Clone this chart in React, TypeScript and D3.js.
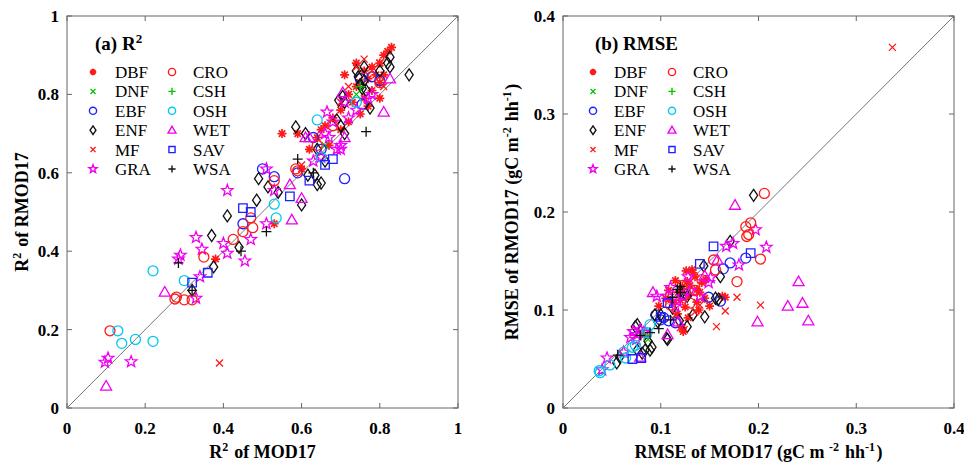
import React from 'react';
import * as d3 from 'd3';

// class names, in plotting / legend order
const CLASSES = ['DBF', 'DNF', 'EBF', 'ENF', 'MF', 'GRA', 'CRO', 'CSH', 'OSH', 'WET', 'SAV', 'WSA'];

// (a) R2: [MOD17, RMOD17]
const R2_DBF = [[0.55,0.70],[0.59,0.70],[0.38,0.38],[0.53,0.47],[0.83,0.92],[0.82,0.91],[0.81,0.90],[0.80,0.88],[0.78,0.87],[0.76,0.86],[0.79,0.85],[0.77,0.84],[0.75,0.83],[0.80,0.83],[0.74,0.82],[0.78,0.81],[0.72,0.80],[0.76,0.79],[0.80,0.79],[0.73,0.78],[0.77,0.77],[0.70,0.76],[0.75,0.75],[0.68,0.74],[0.72,0.73],[0.66,0.72],[0.70,0.71],[0.64,0.69],[0.67,0.67],[0.62,0.66],[0.60,0.61],[0.71,0.85],[0.74,0.88],[0.65,0.71],[0.81,0.85]];
const R2_DNF = [[0.74,0.80],[0.66,0.67]];
const R2_EBF = [[0.71,0.585],[0.50,0.61],[0.53,0.59],[0.45,0.47],[0.59,0.60],[0.75,0.84],[0.80,0.835],[0.78,0.845],[0.63,0.69],[0.755,0.775],[0.65,0.66]];
const R2_ENF = [[0.826,0.895],[0.82,0.88],[0.826,0.87],[0.875,0.85],[0.80,0.86],[0.76,0.87],[0.74,0.86],[0.745,0.845],[0.76,0.835],[0.75,0.825],[0.755,0.815],[0.765,0.81],[0.775,0.765],[0.705,0.795],[0.695,0.785],[0.71,0.78],[0.69,0.735],[0.70,0.72],[0.71,0.70],[0.585,0.717],[0.61,0.70],[0.49,0.585],[0.485,0.53],[0.41,0.49],[0.37,0.44],[0.44,0.41],[0.375,0.36],[0.32,0.30],[0.60,0.518],[0.65,0.574],[0.64,0.57],[0.616,0.594],[0.634,0.594],[0.514,0.564],[0.54,0.55],[0.66,0.63],[0.64,0.66]];
const R2_MF = [[0.39,0.115],[0.76,0.89],[0.78,0.86],[0.74,0.87],[0.72,0.82],[0.80,0.88],[0.70,0.78],[0.81,0.82],[0.60,0.62]];
const R2_GRA = [[0.097,0.117],[0.105,0.127],[0.164,0.118],[0.41,0.555],[0.51,0.61],[0.33,0.435],[0.345,0.405],[0.29,0.39],[0.285,0.38],[0.40,0.42],[0.41,0.395],[0.47,0.43],[0.455,0.375],[0.51,0.47],[0.34,0.335],[0.33,0.28],[0.53,0.555],[0.65,0.64],[0.70,0.66],[0.665,0.755],[0.71,0.78],[0.68,0.73],[0.78,0.80],[0.77,0.79],[0.69,0.66],[0.70,0.67],[0.63,0.63],[0.66,0.70],[0.74,0.76],[0.72,0.74],[0.67,0.69]];
const R2_CRO = [[0.11,0.197],[0.276,0.278],[0.30,0.276],[0.32,0.276],[0.28,0.283],[0.35,0.385],[0.425,0.43],[0.45,0.45],[0.475,0.46],[0.47,0.485],[0.53,0.58],[0.585,0.61],[0.59,0.605],[0.64,0.67],[0.68,0.72],[0.80,0.83]];
const R2_CSH = [[0.75,0.82]];
const R2_OSH = [[0.13,0.197],[0.14,0.165],[0.175,0.175],[0.22,0.17],[0.22,0.35],[0.30,0.325],[0.53,0.52],[0.535,0.485],[0.64,0.735],[0.65,0.64],[0.74,0.78]];
const R2_WET = [[0.10,0.056],[0.25,0.296],[0.57,0.57],[0.60,0.535],[0.575,0.48],[0.61,0.69],[0.71,0.69],[0.826,0.84],[0.81,0.755],[0.705,0.805],[0.62,0.69]];
const R2_SAV = [[0.68,0.635],[0.62,0.58],[0.57,0.54],[0.45,0.51],[0.47,0.50],[0.36,0.345],[0.32,0.32],[0.66,0.62]];
const R2_WSA = [[0.765,0.705],[0.59,0.635],[0.51,0.45],[0.445,0.40],[0.285,0.37],[0.32,0.30],[0.63,0.60]];

// (b) RMSE: [MOD17, RMOD17]
const RM_DBF = [[0.132,0.141],[0.135,0.134],[0.127,0.129],[0.137,0.121],[0.122,0.124],[0.163,0.114],[0.166,0.113],[0.125,0.103],[0.137,0.108],[0.139,0.100],[0.122,0.082],[0.123,0.078],[0.118,0.118],[0.128,0.115],[0.112,0.108],[0.145,0.112],[0.150,0.104],[0.115,0.130],[0.108,0.120],[0.130,0.125],[0.142,0.128],[0.105,0.112],[0.098,0.104],[0.120,0.110],[0.133,0.138],[0.126,0.140],[0.140,0.118],[0.146,0.131],[0.117,0.096],[0.128,0.092]];
const RM_DNF = [[0.087,0.070]];
const RM_EBF = [[0.171,0.148],[0.187,0.153],[0.164,0.142],[0.149,0.113],[0.161,0.109],[0.103,0.092],[0.108,0.089],[0.115,0.087],[0.095,0.095],[0.100,0.090],[0.126,0.116]];
const RM_ENF = [[0.195,0.217],[0.171,0.170],[0.144,0.145],[0.156,0.112],[0.145,0.093],[0.106,0.071],[0.094,0.095],[0.074,0.083],[0.087,0.068],[0.091,0.062],[0.084,0.059],[0.081,0.056],[0.076,0.059],[0.127,0.083],[0.119,0.089],[0.133,0.095],[0.076,0.085],[0.107,0.070],[0.089,0.059],[0.100,0.095],[0.120,0.119],[0.127,0.114],[0.058,0.052],[0.055,0.046],[0.161,0.134],[0.159,0.111],[0.112,0.102],[0.097,0.088]];
const RM_MF = [[0.337,0.368],[0.178,0.113],[0.202,0.105],[0.166,0.099],[0.157,0.083],[0.120,0.082],[0.124,0.080],[0.135,0.098],[0.115,0.095],[0.140,0.105]];
const RM_GRA = [[0.208,0.164],[0.197,0.182],[0.174,0.168],[0.167,0.165],[0.180,0.146],[0.151,0.133],[0.149,0.128],[0.128,0.134],[0.140,0.114],[0.107,0.114],[0.096,0.114],[0.045,0.051],[0.040,0.039],[0.069,0.072],[0.076,0.075],[0.079,0.080],[0.084,0.077],[0.110,0.123],[0.123,0.114],[0.117,0.109],[0.082,0.077],[0.062,0.057],[0.072,0.078],[0.075,0.070],[0.115,0.104],[0.130,0.120]];
const RM_CRO = [[0.206,0.219],[0.192,0.189],[0.187,0.185],[0.190,0.177],[0.188,0.175],[0.202,0.152],[0.178,0.129],[0.154,0.151],[0.156,0.141],[0.142,0.131],[0.130,0.107],[0.122,0.125],[0.110,0.105],[0.135,0.120]];
const RM_CSH = [[0.083,0.074]];
const RM_OSH = [[0.038,0.036],[0.048,0.044],[0.064,0.051],[0.074,0.064],[0.089,0.085],[0.062,0.057],[0.071,0.062],[0.086,0.077],[0.037,0.038]];
const RM_WET = [[0.176,0.207],[0.092,0.118],[0.241,0.129],[0.230,0.104],[0.245,0.107],[0.199,0.088],[0.251,0.089],[0.079,0.052],[0.118,0.088],[0.107,0.075],[0.158,0.151],[0.145,0.135]];
const RM_SAV = [[0.154,0.165],[0.192,0.158],[0.140,0.147],[0.080,0.051],[0.100,0.093],[0.107,0.107],[0.071,0.050]];
const RM_WSA = [[0.056,0.054],[0.089,0.077],[0.098,0.081],[0.120,0.124],[0.079,0.074],[0.110,0.090],[0.112,0.113],[0.120,0.118],[0.117,0.121]];

const R2_DATA = [R2_DBF, R2_DNF, R2_EBF, R2_ENF, R2_MF, R2_GRA, R2_CRO, R2_CSH, R2_OSH, R2_WET, R2_SAV, R2_WSA];
const RM_DATA = [RM_DBF, RM_DNF, RM_EBF, RM_ENF, RM_MF, RM_GRA, RM_CRO, RM_CSH, RM_OSH, RM_WET, RM_SAV, RM_WSA];

const R2_TICKS = [0, 0.2, 0.4, 0.6, 0.8, 1];
const RM_TICKS = [0, 0.1, 0.2, 0.3, 0.4];

// styles
const RED = '#ff1a1a', GREEN = '#00c400', BLUE = '#2020ff', CYAN = '#00c8f0', MAG = '#f000f0', BLK = '#111';
const COLORS = [RED, GREEN, BLUE, BLK, RED, MAG, RED, GREEN, CYAN, MAG, BLUE, BLK];
const MARKERS = ['asterisk', 'times', 'circle', 'diamond', 'times', 'star', 'circle', 'plus', 'circle', 'triangle', 'square', 'plus'];
const DIAM = { asterisk: 9, times: 7, circle: 10, diamond: 12, star: 12, plus: 10, triangle: 11, square: 8.5 };

// custom stroke symbols, size = (diameter)^2
const symbolTypes = {
    asterisk: { draw(ctx, size) { const r = Math.sqrt(size) / 2; for (let i = 0; i < 4; i++) { const a = i * Math.PI / 4; ctx.moveTo(-r * Math.cos(a), -r * Math.sin(a)); ctx.lineTo(r * Math.cos(a), r * Math.sin(a)); } } },
    times: { draw(ctx, size) { const r = Math.sqrt(size) / 2; ctx.moveTo(-r, -r); ctx.lineTo(r, r); ctx.moveTo(-r, r); ctx.lineTo(r, -r); } },
    plus: { draw(ctx, size) { const r = Math.sqrt(size) / 2; ctx.moveTo(-r, 0); ctx.lineTo(r, 0); ctx.moveTo(0, -r); ctx.lineTo(0, r); } },
    circle: { draw(ctx, size) { const r = Math.sqrt(size) / 2; ctx.moveTo(r, 0); ctx.arc(0, 0, r, 0, 2 * Math.PI); } },
    diamond: { draw(ctx, size) { const r = Math.sqrt(size) / 2, w = r * 0.68; ctx.moveTo(0, -r); ctx.lineTo(w, 0); ctx.lineTo(0, r); ctx.lineTo(-w, 0); ctx.closePath(); } },
    square: { draw(ctx, size) { const r = Math.sqrt(size) / 2; ctx.rect(-r, -r, 2 * r, 2 * r); } },
    triangle: { draw(ctx, size) { const r = Math.sqrt(size) / 2; ctx.moveTo(0, -r); ctx.lineTo(r, r * 0.75); ctx.lineTo(-r, r * 0.75); ctx.closePath(); } },
    star: { draw(ctx, size) { const R = Math.sqrt(size) / 2, ri = R * 0.42; for (let i = 0; i < 10; i++) { const rr = i % 2 ? ri : R; const a = -Math.PI / 2 + i * Math.PI / 5; const x = rr * Math.cos(a), y = rr * Math.sin(a); if (i) ctx.lineTo(x, y); else ctx.moveTo(x, y); } ctx.closePath(); } },
};

const markerPath = (k, scale = 1) => d3.symbol().type(symbolTypes[MARKERS[k]]).size((DIAM[MARKERS[k]] * scale) ** 2)();

const FONT = 'Liberation Serif, Times New Roman, serif';

const Sup = ({ children, size = 12 }) => (
    <>
        <tspan dy={-7} fontSize={size}>{children}</tspan>
        <tspan dy={7}>{'\u200A'}</tspan>
    </>
);

const Panel = ({ left, data, ticks, fmt, title, xLabel, yLabel, yLabelX, legendDx }) => {
    const top = 16, size = 391, bottom = top + size + 1;
    const max = ticks[ticks.length - 1];
    const x = d3.scaleLinear().domain([0, max]).range([left, left + size]);
    const y = d3.scaleLinear().domain([0, max]).range([bottom, top]);
    const rowY = (i) => 72 + i * 19.4;

    return (
        <g fontFamily={FONT}>
            <rect x={left} y={top} width={size} height={bottom - top} fill="#fff" stroke="#666" strokeWidth={1} />
            {/* 1:1 line */}
            <line x1={x(0)} y1={y(0)} x2={x(max)} y2={y(max)} stroke="#777" strokeWidth={1} />
            {/* ticks */}
            {ticks.map((t) => (
                <g key={t}>
                    <line x1={x(t)} x2={x(t)} y1={bottom} y2={bottom - 5} stroke="#666" />
                    <line x1={x(t)} x2={x(t)} y1={top} y2={top + 5} stroke="#666" />
                    <line y1={y(t)} y2={y(t)} x1={left} x2={left + 5} stroke="#666" />
                    <line y1={y(t)} y2={y(t)} x1={left + size} x2={left + size - 5} stroke="#666" />
                    <text x={x(t)} y={434} textAnchor="middle" fontSize={17} fontWeight="bold">{fmt(t)}</text>
                    <text x={left - 8} y={y(t) + 6} textAnchor="end" fontSize={17} fontWeight="bold">{fmt(t)}</text>
                </g>
            ))}
            {/* points */}
            {data.map((pts, k) => (
                <g key={CLASSES[k]} stroke={COLORS[k]} fill="none" strokeWidth={MARKERS[k] === 'asterisk' ? 1.7 : 1.3}>
                    {pts.map((p, i) => (
                        <path key={i} d={markerPath(k)} transform={`translate(${x(p[0])},${y(p[1])})`} />
                    ))}
                </g>
            ))}
            {/* title */}
            <text x={left + legendDx[0] + 2} y={50} fontSize={19} fontWeight="bold">{title}</text>
            {/* legend */}
            {CLASSES.map((c, k) => {
                const col = k < 6 ? 0 : 1, row = k % 6;
                const mx = left + legendDx[col * 2], tx = left + legendDx[col * 2 + 1];
                return (
                    <g key={c}>
                        <path d={markerPath(k, 0.72)} transform={`translate(${mx},${rowY(row)})`} stroke={COLORS[k]} fill="none" strokeWidth={MARKERS[k] === 'asterisk' ? 2 : 1.4} />
                        <text x={tx} y={rowY(row) + 6} fontSize={17}>{c}</text>
                    </g>
                );
            })}
            {/* axis labels */}
            <text x={left + size / 2} y={458} textAnchor="middle" fontSize={18} fontWeight="bold">{xLabel}</text>
            <text transform={`translate(${yLabelX},${(top + bottom) / 2}) rotate(-90)`} textAnchor="middle" fontSize={18} fontWeight="bold">{yLabel}</text>
        </g>
    );
};

const fmtR2 = (t) => String(+t.toFixed(1));
const fmtRM = (t) => String(+t.toFixed(1));

export default function App() {
    return (
        <svg width={964} height={466} style={{ position: 'absolute', left: 0, top: 0, background: '#fff' }}>
            <Panel
                left={67}
                data={R2_DATA}
                ticks={R2_TICKS}
                fmt={fmtR2}
                legendDx={[26, 48, 105, 126]}
                title={<>(a) R<Sup size={13}>2</Sup></>}
                xLabel={<>R<Sup>2</Sup> of MOD17</>}
                yLabel={<>R<Sup>2</Sup> of RMOD17</>}
                yLabelX={28}
            />
            <Panel
                left={563}
                data={RM_DATA}
                ticks={RM_TICKS}
                fmt={fmtRM}
                legendDx={[30, 51, 109, 130]}
                title={<>(b) RMSE</>}
                xLabel={<>RMSE of MOD17 (gC m <Sup>-2</Sup> hh<Sup>-1</Sup>)</>}
                yLabel={<>RMSE of RMOD17 (gC m<Sup>-2</Sup> hh<Sup>-1</Sup>)</>}
                yLabelX={518}
            />
        </svg>
    );
}
